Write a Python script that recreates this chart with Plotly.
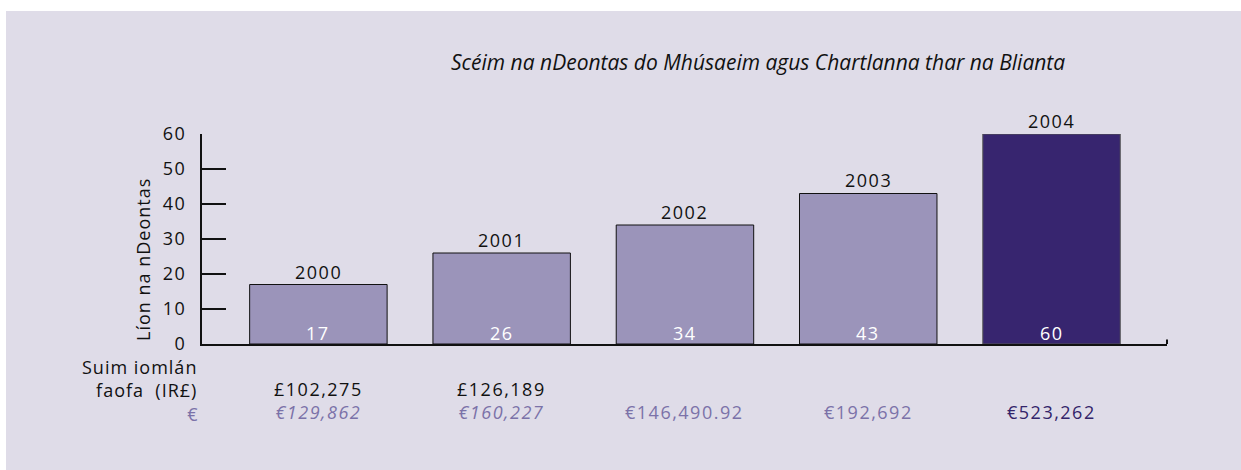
import plotly.graph_objects as go

# Grant scheme data per year
years = ["2000", "2001", "2002", "2003", "2004"]
grants = [17, 26, 34, 43, 60]
irish_pound_totals = ["£102,275", "£126,189", "", "", ""]
euro_totals = ["€129,862", "€160,227", "€146,490.92", "€192,692", "€523,262"]
y_ticks = [0, 10, 20, 30, 40, 50, 60]

W, H = 1241, 470
FONT = "Open Sans"
FS = 18
PANEL = "#dfdce8"
LIGHT_BAR = "#9b94ba"
DARK_BAR = "#37256f"
EURO_LIGHT = "#7b72a8"
EURO_DARK = "#33246a"
INK = "#111111"

latest = len(years) - 1
bar_colors = [DARK_BAR if i == latest else LIGHT_BAR for i in range(len(years))]
bar_lines = ["#555555" if i == latest else INK for i in range(len(years))]


def px_x(x):
    return x / W


def px_y(y):
    return (H - y) / H


def spaced(s, gap=1.5):
    return f"<span style='letter-spacing:{gap}px'>{s}</span>"


fig = go.Figure()
fig.add_trace(go.Bar(
    x=list(range(len(years))),
    y=grants,
    width=0.75,
    marker=dict(color=bar_colors, line=dict(color=bar_lines, width=1)),
    hoverinfo="skip",
    showlegend=False,
))

annotations = []
for i, (yr, v) in enumerate(zip(years, grants)):
    # year label above the bar
    annotations.append(dict(
        x=i, y=v, xref="x", yref="y", text=spaced(yr), showarrow=False,
        yanchor="bottom", yshift=-1,
        font=dict(family=FONT, size=FS, color=INK),
    ))
    # grant count at the foot of the bar
    annotations.append(dict(
        x=i, y=0, xref="x", yref="y", text=spaced(str(v)), showarrow=False,
        yanchor="middle", yshift=11,
        font=dict(family=FONT, size=FS, color="white"),
    ))

# totals beneath each bar: IR£ (where recorded) and euro
for i, (p, e) in enumerate(zip(irish_pound_totals, euro_totals)):
    if p:
        txt = (spaced(p) + "<br>"
               + f"<span style='color:{EURO_LIGHT}'><i>{spaced(e)}</i></span>")
        y_mid = px_y(400.5)
        col = INK
    else:
        txt = spaced(e)
        y_mid = px_y(412)
        col = EURO_DARK if i == latest else EURO_LIGHT
    annotations.append(dict(
        x=i, y=y_mid, xref="x", yref="paper", text=txt, showarrow=False,
        yanchor="middle", align="center",
        font=dict(family=FONT, size=FS, color=col),
    ))

# row headings
annotations.append(dict(
    x=px_x(200), y=px_y(390), xref="paper", yref="paper",
    text=(spaced("Suim iomlán", 1) + "<br>" + spaced("faofa&nbsp; (IR£)", 1) + "<br>"
          + f"<span style='color:{EURO_LIGHT}'>€</span>"),
    showarrow=False, xanchor="right", yanchor="middle", align="right",
    font=dict(family=FONT, size=FS, color=INK),
))

# y-axis title
annotations.append(dict(
    x=px_x(143), y=px_y(260), xref="paper", yref="paper",
    text=spaced("Líon na nDeontas", 1),
    showarrow=False, textangle=-90, xanchor="center", yanchor="middle",
    font=dict(family=FONT, size=FS, color=INK),
))

# chart title
annotations.append(dict(
    x=px_x(758), y=px_y(62), xref="paper", yref="paper",
    text="<i>Scéim na nDeontas do Mhúsaeim agus Chartlanna thar na Blianta</i>",
    showarrow=False, xanchor="center", yanchor="middle",
    font=dict(family=FONT, size=21, color=INK),
))

shapes = [
    # background panel
    dict(type="rect", xref="paper", yref="paper", x0=px_x(6), x1=1, y0=0, y1=px_y(11),
         fillcolor=PANEL, line=dict(width=0), layer="below"),
    # small end tick on the category axis
    dict(type="line", xref="x domain", yref="y", x0=1, x1=1, y0=0, y1=1.3,
         line=dict(color=INK, width=2)),
]

fig.update_layout(
    width=W, height=H,
    margin=dict(l=0, r=0, t=0, b=0, pad=0, autoexpand=False),
    paper_bgcolor="white",
    plot_bgcolor="rgba(0,0,0,0)",
    showlegend=False,
    annotations=annotations,
    shapes=shapes,
    xaxis=dict(
        domain=[px_x(202), px_x(1167)],
        range=[-0.635, 4.63],
        showticklabels=False, ticks="", showgrid=False, zeroline=False,
        showline=True, linecolor=INK, linewidth=2,
    ),
    yaxis=dict(
        domain=[px_y(344), px_y(134)],
        range=[0, 60],
        tickvals=y_ticks,
        ticktext=[spaced(str(t)) for t in y_ticks],
        ticks="inside", ticklen=24, tickwidth=2, tickcolor=INK,
        ticklabelstandoff=10,
        tickfont=dict(family=FONT, size=FS, color=INK),
        showgrid=False, zeroline=False,
        showline=True, linecolor=INK, linewidth=2,
    ),
)

fig.write_html("out.html")
